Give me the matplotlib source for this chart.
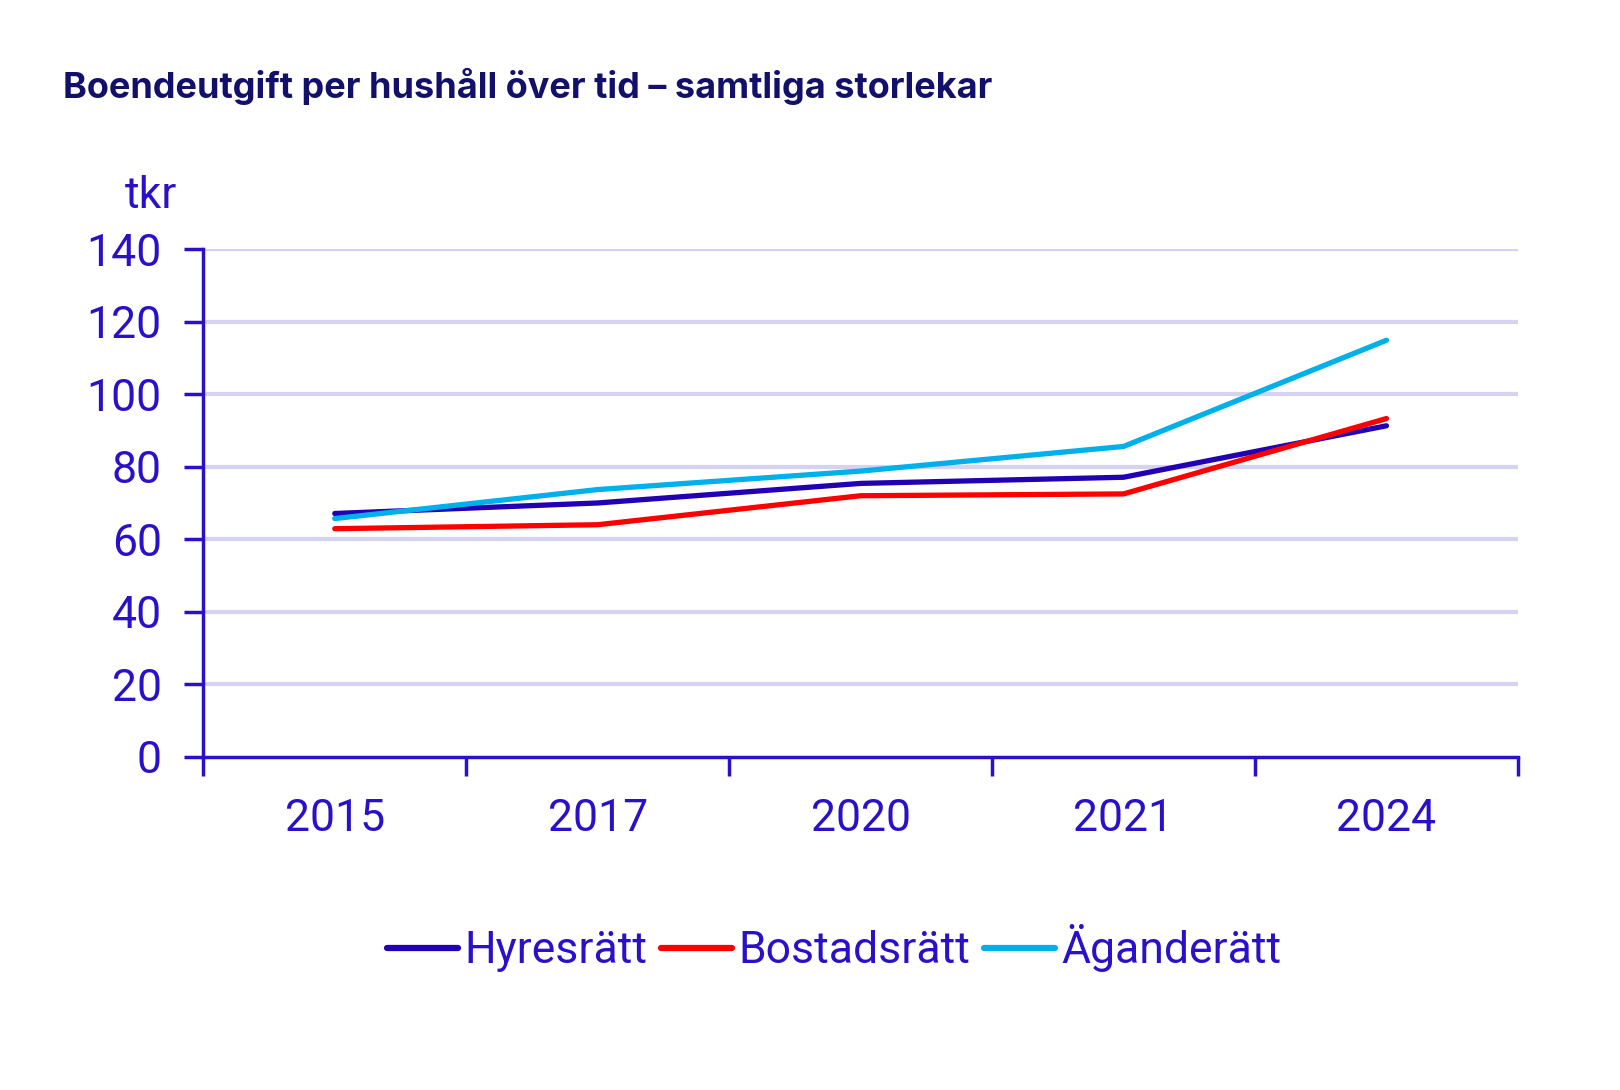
import matplotlib
matplotlib.use("Agg")
import matplotlib.pyplot as plt
from matplotlib.ticker import FixedLocator, NullFormatter, FixedFormatter
import numpy as np

years = ["2015", "2017", "2020", "2021", "2024"]
hyresratt = [67.1, 70.0, 75.4, 77.1, 91.3]
bostadsratt = [62.9, 64.0, 72.0, 72.5, 93.3]
aganderatt = [65.7, 73.7, 78.8, 85.6, 114.9]
series_names = ["Hyresrätt", "Bostadsrätt", "Äganderätt"]
series_colors = ["#2200B4", "#FF0000", "#00B0EA"]
yticks = [0, 20, 40, 60, 80, 100, 120, 140]

axis_col = "#2A10C8"
text_col = "#2A10C8"
grid_col = "#D6D2F2"
title_col = "#12106A"

fig = plt.figure(figsize=(16.2, 10.9), dpi=100)
ax = fig.add_axes([0.1255, 0.3058, 0.8115, 0.4655])

xpos = np.arange(len(years)) + 0.5
for vals, name, col in zip([hyresratt, bostadsratt, aganderatt], series_names, series_colors):
    ax.plot(xpos, vals, color=col, lw=3.8, label=name, solid_capstyle="round", solid_joinstyle="round", zorder=3)

ax.set_xlim(0, len(years))
ax.set_ylim(0, 140)

for y in yticks[1:]:
    ax.axhline(y, color=grid_col, lw=3.0, zorder=1)

for s in ["top", "right"]:
    ax.spines[s].set_visible(False)
for s in ["left", "bottom"]:
    ax.spines[s].set_color(axis_col)
    ax.spines[s].set_linewidth(2.5)

ax.yaxis.set_major_locator(FixedLocator(yticks))
ax.set_yticklabels([str(v) for v in yticks])
ax.tick_params(axis="y", length=14, width=2.5, color=axis_col, labelcolor=text_col,
               labelsize=32, pad=16)
for lab in ax.get_yticklabels():
    lab.set_fontfamily("Roboto")

ax.xaxis.set_major_locator(FixedLocator(np.arange(len(years) + 1)))
ax.xaxis.set_major_formatter(NullFormatter())
ax.xaxis.set_minor_locator(FixedLocator(xpos))
ax.xaxis.set_minor_formatter(FixedFormatter(years))
ax.tick_params(axis="x", which="major", length=14, width=2.5, color=axis_col)
ax.tick_params(axis="x", which="minor", length=0, labelcolor=text_col, labelsize=32, pad=30)
for lab in ax.get_xticklabels(minor=True):
    lab.set_fontfamily("Roboto")

ax.text(-0.02, 1.105, "tkr", transform=ax.transAxes, ha="right", va="center",
        fontsize=32, color=text_col, fontfamily="Roboto")

fig.text(0.039, 0.921, "Boendeutgift per hushåll över tid – samtliga storlekar",
         fontsize=26, fontweight="bold", color=title_col, fontfamily="Inter",
         ha="left", va="center")

leg = fig.legend(loc="center", bbox_to_anchor=(0.515, 0.13), ncol=3, frameon=False,
                 handlelength=1.6, handletextpad=0.15, columnspacing=0.3,
                 prop={"family": "Roboto", "size": 32})
for t in leg.get_texts():
    t.set_color(text_col)
for h in leg.get_lines():
    h.set_linewidth(4.5)

fig.savefig("out.png", dpi=100, facecolor="white")
